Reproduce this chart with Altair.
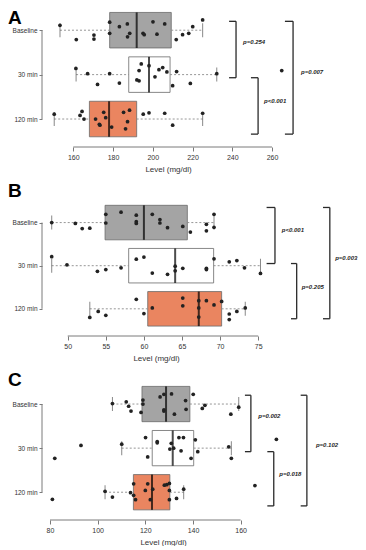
import altair as alt
import pandas as pd

categories = ["Baseline", "30 min", "120 min"]
box_fills = ["#a4a4a4", "#ffffff", "#ea8560"]
axis_title = "Level (mg/dl)"

# ---------------- Panel A ----------------
a_q1 = [178.3, 187.9, 168.1]
a_med = [191.9, 198.1, 178.0]
a_q3 = [209.3, 208.7, 191.9]
a_wlo = [153.3, 161.4, 150.4]
a_whi = [225.1, 232.2, 225.1]
a_base_vals = [153.3, 161.5, 170.4, 170.4, 178.3, 178.3, 183.2, 187.2, 187.3, 188.4,
               195.1, 195.7, 200.1, 202.1, 206.0, 211.8, 215.0, 218.1, 220.1, 225.1]
a_base_jit = [-0.11, 0.21, 0.11, 0.20, -0.18, 0.07, -0.08, -0.14, 0.15, 0.07,
              0.07, 0.10, -0.19, 0.09, -0.14, 0.21, 0.10, 0.07, -0.08, -0.23]
a_30_vals = [161.3, 167.2, 172.2, 178.3, 183.2, 192.0, 193.1, 193.1, 194.2, 198.1,
             201.1, 203.1, 205.0, 207.1, 210.0, 212.0, 218.9, 232.2, 264.9]
a_30_jit = [-0.14, -0.02, 0.22, -0.02, 0.19, 0.12, 0.14, -0.09, -0.24, -0.20,
            0.05, -0.11, -0.16, -0.06, 0.25, -0.07, 0.20, -0.02, -0.09]
a_120_vals = [150.4, 163.4, 164.4, 165.4, 171.2, 173.1, 173.4, 175.3, 176.3, 179.3,
              185.3, 186.3, 187.3, 188.3, 195.2, 198.1, 206.0, 210.0, 225.1]
a_120_jit = [-0.11, -0.08, -0.17, 0.0, 0.0, 0.12, 0.14, -0.15, -0.03, 0.18,
             -0.15, 0.22, 0.06, -0.20, -0.11, -0.14, -0.13, 0.14, -0.13]
a_p_labels = ["p=0.254", "p<0.001", "p=0.007"]
a_br_in = [238.4, 249.4, 266.5]
a_br_out = [241.9, 253.0, 270.6]
a_br_top = [-0.2, 1.07, -0.2]
a_br_bot = [1.07, 2.34, 2.34]
a_txt_x = [245.4, 256.0, 274.6]
a_txt_y = [0.27, 1.59, 0.93]
a_ticks = [160, 180, 200, 220, 240, 260]

# ---------------- Panel B ----------------
b_q1 = [54.9, 58.0, 60.5]
b_med = [60.0, 64.1, 67.2]
b_q3 = [65.7, 69.15, 70.2]
b_wlo = [47.9, 47.9, 52.9]
b_whi = [69.2, 75.3, 73.3]
b_base_vals = [47.9, 51.0, 51.9, 52.9, 55.0, 55.0, 57.0, 59.0, 59.0, 59.0,
               61.1, 62.1, 62.1, 63.1, 65.1, 66.1, 68.2, 68.2, 69.2, 69.2]
b_base_jit = [0.0, 0.02, 0.14, 0.13, -0.19, 0.01, -0.24, -0.17, -0.02, 0.02,
              -0.19, -0.07, 0.01, 0.12, 0.09, 0.22, 0.04, 0.19, -0.19, 0.11]
b_30_vals = [47.9, 49.9, 53.9, 55.0, 57.0, 59.0, 60.0, 61.1, 63.1, 64.1,
             64.1, 65.1, 68.2, 68.2, 69.2, 71.2, 72.2, 73.2, 75.3]
b_30_jit = [-0.21, -0.02, 0.13, 0.09, 0.05, -0.15, -0.20, 0.17, 0.20, 0.01,
            0.12, 0.06, 0.06, 0.09, -0.16, -0.09, -0.12, 0.05, 0.18]
b_120_vals = [52.9, 54.0, 55.0, 59.0, 60.0, 61.1, 65.1, 65.1, 67.2, 67.2,
              67.2, 68.2, 69.2, 70.2, 71.2, 71.2, 72.2, 73.3]
b_120_jit = [0.20, 0.06, 0.15, -0.22, 0.11, -0.02, -0.25, -0.07, -0.19, -0.02,
             0.19, -0.19, -0.09, -0.17, 0.12, 0.25, 0.06, -0.02]
b_p_labels = ["p<0.001", "p=0.205", "p=0.003"]
b_br_in = [76.1, 79.3, 83.5]
b_br_out = [77.2, 80.05, 84.4]
b_br_top = [-0.35, 0.95, -0.35]
b_br_bot = [0.95, 2.23, 2.23]
b_txt_x = [78.1, 80.7, 85.1]
b_txt_y = [0.18, 1.5, 0.82]
b_ticks = [50, 55, 60, 65, 70, 75]

# ---------------- Panel C ----------------
c_q1 = [118.6, 122.9, 115.0]
c_med = [128.7, 131.5, 122.8]
c_q3 = [138.7, 140.3, 130.3]
c_wlo = [106.2, 110.1, 103.1]
c_whi = [159.2, 156.1, 136.1]
c_base_vals = [106.2, 112.0, 113.0, 114.0, 118.2, 119.0, 119.0, 126.2, 127.8, 127.8,
               127.8, 131.0, 132.2, 136.9, 137.1, 140.1, 143.9, 145.0, 155.9, 159.2]
c_base_jit = [-0.01, -0.05, 0.05, 0.16, 0.19, -0.09, 0.0, -0.16, -0.22, 0.13,
              0.16, -0.23, 0.23, -0.08, 0.12, -0.22, 0.10, 0.03, 0.23, 0.07]
c_30_vals = [82.0, 93.0, 110.1, 120.1, 121.0, 125.0, 125.0, 130.3, 130.9, 131.9,
             134.1, 135.0, 136.0, 139.2, 141.0, 142.0, 155.0, 156.1, 175.0]
c_30_jit = [0.23, -0.06, -0.09, -0.24, 0.20, -0.15, -0.12, 0.02, -0.11, 0.0,
            -0.24, 0.06, -0.24, 0.23, -0.19, 0.08, -0.03, 0.23, -0.20]
c_120_vals = [81.0, 103.1, 106.2, 113.8, 115.1, 115.1, 115.9, 120.0, 121.0, 122.1,
              123.1, 128.0, 129.0, 130.1, 130.1, 130.1, 133.1, 136.1, 166.0]
c_120_jit = [0.16, -0.02, 0.11, 0.01, -0.19, 0.07, 0.17, -0.04, -0.19, 0.17,
             -0.07, -0.16, -0.17, -0.20, -0.04, 0.17, 0.14, -0.07, -0.15]
c_p_labels = ["p=0.002", "p=0.018", "p=0.102"]
c_br_in = [161.8, 171.2, 185.2]
c_br_out = [164.3, 173.9, 187.8]
c_br_top = [-0.2, 1.08, -0.2]
c_br_bot = [1.08, 2.31, 2.31]
c_txt_x = [167.4, 176.2, 191.6]
c_txt_y = [0.26, 1.58, 0.92]
c_ticks = [80, 100, 120, 140, 160]

# ---------------- layout (pixels) ----------------
PLOT_W = 290
Y_DOMAIN = [-0.5, 2.63]
LABEL_EXPR = "[" + ",".join("'" + c + "'" for c in categories) + "][datum.value]"
AXIS_GRAY = "#7a7a7a"

panels = [
    dict(letter="A", letter_row=-0.28, height=139, xdom=[146.26, 292.21], ticks=a_ticks, title_x=122,
         q1=a_q1, med=a_med, q3=a_q3, wlo=a_wlo, whi=a_whi,
         vals=[a_base_vals, a_30_vals, a_120_vals], jits=[a_base_jit, a_30_jit, a_120_jit],
         pl=a_p_labels, br_in=a_br_in, br_out=a_br_out, br_top=a_br_top, br_bot=a_br_bot,
         tx=a_txt_x, ty=a_txt_y),
    dict(letter="B", letter_row=-0.74, height=135, xdom=[47.15, 85.21], ticks=b_ticks, title_x=110,
         q1=b_q1, med=b_med, q3=b_q3, wlo=b_wlo, whi=b_whi,
         vals=[b_base_vals, b_30_vals, b_120_vals], jits=[b_base_jit, b_30_jit, b_120_jit],
         pl=b_p_labels, br_in=b_br_in, br_out=b_br_out, br_top=b_br_top, br_bot=b_br_bot,
         tx=b_txt_x, ty=b_txt_y),
    dict(letter="C", letter_row=-0.55, height=138, xdom=[78.32, 200.02], ticks=c_ticks, title_x=117,
         q1=c_q1, med=c_med, q3=c_q3, wlo=c_wlo, whi=c_whi,
         vals=[c_base_vals, c_30_vals, c_120_vals], jits=[c_base_jit, c_30_jit, c_120_jit],
         pl=c_p_labels, br_in=c_br_in, br_out=c_br_out, br_top=c_br_top, br_bot=c_br_bot,
         tx=c_txt_x, ty=c_txt_y),
]


def build_panel(p):
    H = p["height"]
    row_px = H / (Y_DOMAIN[1] - Y_DOMAIN[0])
    box_px = 0.8 * row_px

    def xenc(field):
        return alt.X(f"{field}:Q",
                     scale=alt.Scale(domain=p["xdom"], nice=False, zero=False, padding=0),
                     axis=alt.Axis(values=p["ticks"], title=axis_title, grid=False, domain=False,
                                   ticks=True, tickSize=4, tickColor=AXIS_GRAY, tickWidth=1,
                                   labelFontSize=7, labelColor="#333", labelPadding=2, labelFlush=False,
                                   titleFontSize=8, titleFontWeight="normal", titleColor="#333",
                                   titlePadding=5, titleX=p["title_x"]))

    def yenc(field):
        return alt.Y(f"{field}:Q",
                     scale=alt.Scale(domain=Y_DOMAIN, reverse=True, nice=False, zero=False, padding=0),
                     axis=alt.Axis(values=[0, 1, 2], labelExpr=LABEL_EXPR, grid=False, domain=False,
                                   ticks=True, offset=4, tickSize=3, tickColor=AXIS_GRAY, tickWidth=1,
                                   labelFontSize=6.5, labelColor="#333", labelPadding=2, title=None))

    box_df = pd.DataFrame({"cat": categories, "row": [0, 1, 2], "q1": p["q1"], "med": p["med"],
                           "q3": p["q3"], "wlo": p["wlo"], "whi": p["whi"]})
    wh_df = pd.DataFrame({
        "row": [0, 1, 2, 0, 1, 2],
        "x": list(p["wlo"]) + list(p["q3"]),
        "x2": list(p["q1"]) + list(p["whi"]),
    })
    cap_df = pd.DataFrame({"row": [0, 1, 2, 0, 1, 2], "x": list(p["wlo"]) + list(p["whi"])})
    pts = []
    for i, (vals, jits) in enumerate(zip(p["vals"], p["jits"])):
        for v, j in zip(vals, jits):
            pts.append({"value": v, "row": i + j})
    pts_df = pd.DataFrame(pts)
    brv_df = pd.DataFrame({"x": p["br_out"], "top": p["br_top"], "bot": p["br_bot"]})
    brh_df = pd.DataFrame({
        "x_in": list(p["br_in"]) * 2,
        "x_out": list(p["br_out"]) * 2,
        "y": list(p["br_top"]) + list(p["br_bot"]),
    })
    txt_df = pd.DataFrame({"x": p["tx"], "y": p["ty"], "label": p["pl"]})
    xline_df = pd.DataFrame({"x": [p["ticks"][0]], "x2": [p["ticks"][-1]], "y": [Y_DOMAIN[1]]})
    yline_df = pd.DataFrame({"y": [0], "y2": [2]})
    letter_df = pd.DataFrame({"t": [p["letter"]], "y": [p["letter_row"]]})

    layers = [
        alt.Chart(box_df).mark_bar(orient="horizontal", size=box_px, stroke="#6a6a6a",
                                   strokeWidth=0.8).encode(
            x=xenc("q1"), x2="q3", y=yenc("row"),
            color=alt.Color("cat:N", scale=alt.Scale(domain=categories, range=box_fills), legend=None)),
        alt.Chart(xline_df).mark_rule(color=AXIS_GRAY, strokeWidth=1).encode(
            x=xenc("x"), x2="x2", y=yenc("y")),
        alt.Chart(yline_df).mark_rule(color=AXIS_GRAY, strokeWidth=1, xOffset=-4).encode(
            x=alt.value(0), y=yenc("y"), y2="y2"),
        alt.Chart(wh_df).mark_rule(color="#8a8a8a", strokeWidth=0.9, strokeDash=[2, 2]).encode(
            x=xenc("x"), x2="x2", y=yenc("row")),
        alt.Chart(cap_df).mark_tick(orient="vertical", size=14, thickness=1, color="#555").encode(
            x=xenc("x"), y=yenc("row")),
        alt.Chart(box_df).mark_tick(orient="vertical", size=box_px, thickness=2, color="#000").encode(
            x=xenc("med"), y=yenc("row")),
        alt.Chart(pts_df).mark_circle(size=14, color="#222", opacity=1).encode(
            x=xenc("value"), y=yenc("row")),
        alt.Chart(brv_df).mark_rule(color="#2a2a2a", strokeWidth=1.3).encode(
            x=xenc("x"), y=yenc("top"), y2="bot"),
        alt.Chart(brh_df).mark_rule(color="#2a2a2a", strokeWidth=1.3).encode(
            x=xenc("x_in"), x2="x_out", y=yenc("y")),
        alt.Chart(txt_df).mark_text(align="left", baseline="middle", fontSize=6, fontStyle="italic",
                                    fontWeight="bold", color="#222").encode(
            x=xenc("x"), y=yenc("y"), text="label:N"),
        alt.Chart(letter_df).mark_text(align="left", baseline="middle", fontSize=19, fontWeight="bold",
                                       color="#000").encode(
            x=alt.value(-38), y=yenc("y"), text="t:N"),
    ]
    return alt.layer(*layers).properties(width=PLOT_W, height=H)


chart = alt.vconcat(*[build_panel(p) for p in panels], spacing=8).properties(padding=0)
chart = chart.configure(font="Liberation Sans").configure_view(strokeWidth=0)

chart.save("out.html", embed_options={"renderer": "svg", "actions": False})
